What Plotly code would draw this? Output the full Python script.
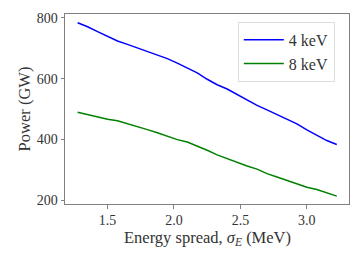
import plotly.graph_objects as go

energy_spread = [1.275, 1.35, 1.425, 1.5, 1.575, 1.65, 1.725, 1.8, 1.875, 1.95, 2.025, 2.1, 2.175,
                 2.25, 2.325, 2.4, 2.475, 2.55, 2.625, 2.7, 2.775, 2.85, 2.925, 3.0, 3.075, 3.15, 3.225]
power_4kev = [784, 771, 755, 739, 724, 713, 701, 688, 678, 666, 651, 636, 619,
              598, 580, 566, 548, 530, 512, 497, 482, 467, 451, 431, 413, 396, 383]
power_8kev = [489, 481, 473, 466, 461, 452, 442, 432, 422, 410, 399, 391, 378,
              364, 349, 336, 323, 312, 302, 287, 276, 265, 252, 242, 235, 224, 213]
x_ticks = [1.5, 2.0, 2.5, 3.0]
x_tick_labels = ["1.5", "2.0", "2.5", "3.0"]
y_ticks = [200, 400, 600, 800]
x_title = "Energy spread, <i>σ<sub>E</sub></i> (MeV)"
y_title = "Power (GW)"

font_family = "Liberation Serif, DejaVu Serif, serif"

fig = go.Figure()
fig.add_trace(go.Scatter(x=energy_spread, y=power_4kev, mode="lines", name="4 keV",
                         line=dict(color="#0000ff", width=1.5)))
fig.add_trace(go.Scatter(x=energy_spread, y=power_8kev, mode="lines", name="8 keV",
                         line=dict(color="#008000", width=1.5)))

axis_common = dict(showgrid=False, zeroline=False, showline=True, linecolor="#808080",
                   linewidth=1, mirror=True, ticks="outside", ticklen=3.5, tickcolor="#808080",
                   tickfont=dict(family=font_family, size=14, color="#333333"))

fig.update_layout(
    width=361, height=257,
    margin=dict(l=65, r=11, t=11, b=53),
    paper_bgcolor="white", plot_bgcolor="white",
    font=dict(family=font_family, color="#333333"),
    xaxis=dict(range=[1.18, 3.317], tickvals=x_ticks, ticktext=x_tick_labels, **axis_common),
    yaxis=dict(range=[187, 813], tickvals=y_ticks,
               title=dict(text=y_title, font=dict(family=font_family, size=16.5, color="#333333"),
                          standoff=1),
               **axis_common),
    legend=dict(x=0.95, y=0.959, xanchor="right", yanchor="top",
                bgcolor="rgba(255,255,255,0.9)", bordercolor="#dddddd", borderwidth=1,
                font=dict(family=font_family, size=16, color="#333333"),
                itemwidth=40, tracegroupgap=0),
    showlegend=True,
    annotations=[dict(text=x_title, xref="paper", yref="paper", x=0.5, y=-0.117,
                      xanchor="center", yanchor="top", showarrow=False,
                      font=dict(family=font_family, size=16.5, color="#333333"))],
)

fig.write_html("out.html", config={"displayModeBar": False},
               post_script="document.body.style.margin='0';")
